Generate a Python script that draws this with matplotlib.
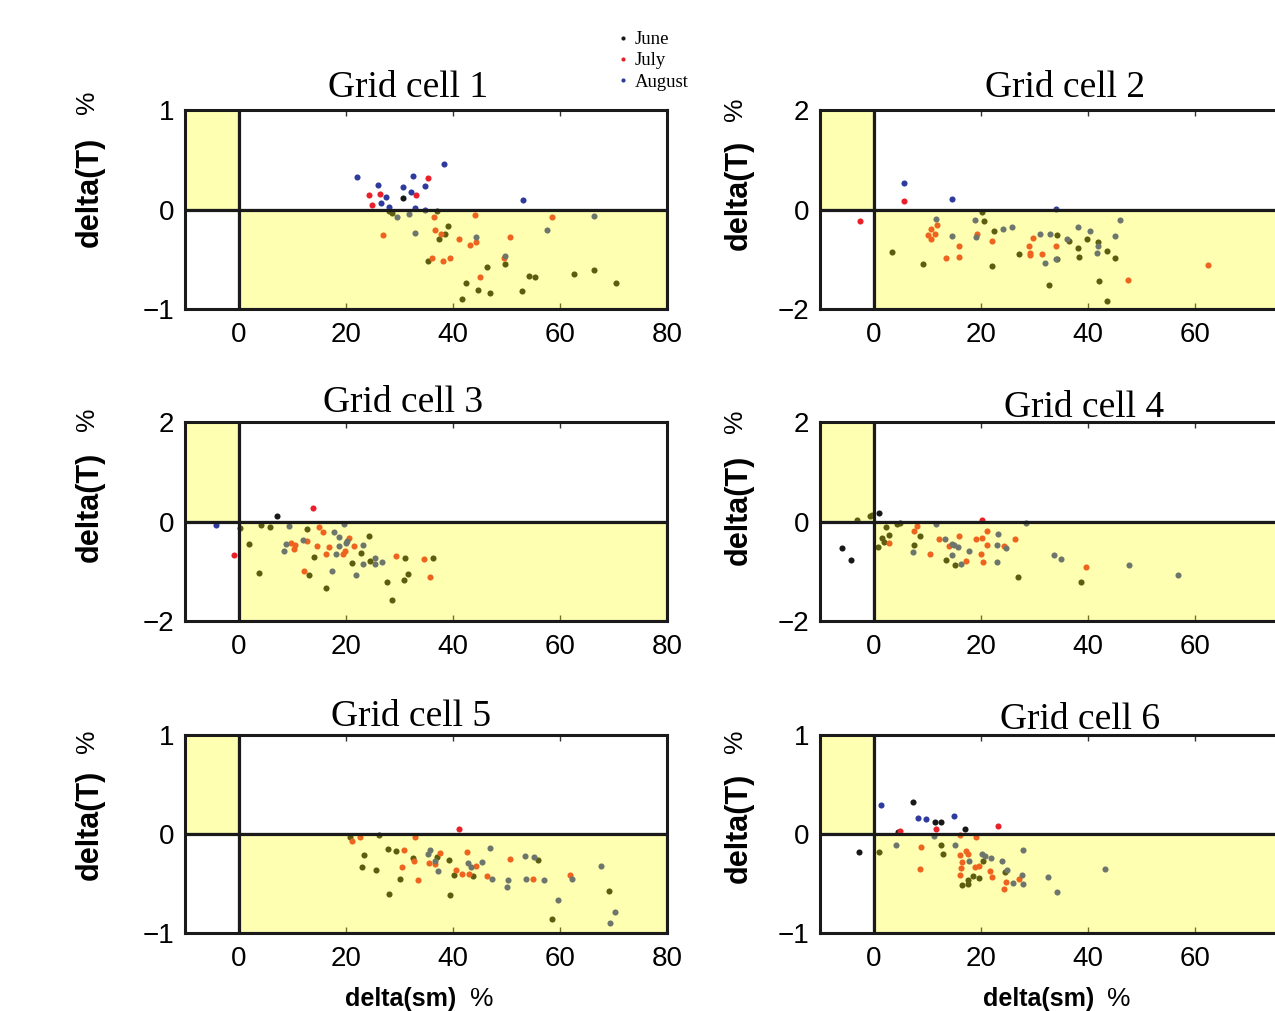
import matplotlib
matplotlib.use("Agg")
import matplotlib.pyplot as plt
from matplotlib.patches import Rectangle
from matplotlib.lines import Line2D

# ---------------- data (delta(sm) %, delta(T) %) ----------------
# Grid cell 1
g1_jun_x = [30.7, 28.0, 28.7, 37.0, 39.2, 38.5, 37.5, 35.3, 46.4, 49.8, 42.5, 44.8, 46.9, 41.7, 52.9, 54.3, 55.4, 62.7, 66.3, 70.4]
g1_jun_y = [0.12, -0.02, -0.04, -0.02, -0.17, -0.25, -0.30, -0.52, -0.58, -0.55, -0.74, -0.81, -0.84, -0.90, -0.82, -0.67, -0.68, -0.65, -0.61, -0.74]
g1_jul_x = [24.4, 26.4, 24.9, 33.2, 35.4, 27.0, 36.5, 44.1, 58.6, 36.6, 37.8, 41.2, 43.3, 44.4, 50.7, 36.2, 38.1, 39.4, 49.5, 45.0]
g1_jul_y = [0.15, 0.16, 0.05, 0.15, 0.32, -0.26, -0.08, -0.06, -0.08, -0.21, -0.25, -0.30, -0.36, -0.33, -0.28, -0.49, -0.52, -0.49, -0.49, -0.68]
g1_aug_x = [22.2, 26.1, 27.5, 26.6, 28.1, 30.7, 32.5, 32.2, 34.9, 38.3, 53.1, 33.0, 34.8, 29.6, 31.8, 32.9, 44.4, 49.7, 57.5, 66.3]
g1_aug_y = [0.33, 0.25, 0.13, 0.07, 0.03, 0.23, 0.34, 0.18, 0.24, 0.46, 0.10, 0.02, -0.01, -0.08, -0.05, -0.24, -0.28, -0.47, -0.21, -0.07]

# Grid cell 2
g2_jun_x = [20.2, 3.5, 9.2, 20.6, 22.4, 22.2, 27.1, 32.7, 34.2, 36.5, 38.2, 38.3, 39.8, 41.9, 42.1, 43.5, 43.5, 45.0, 34.3]
g2_jun_y = [-0.05, -0.85, -1.09, -0.23, -0.43, -1.13, -0.89, -1.51, -0.51, -0.63, -0.77, -0.96, -0.60, -0.65, -1.44, -0.84, -1.83, -0.97, -1.00]
g2_jul_x = [5.7, -2.6, 10.1, 10.8, 11.9, 10.7, 11.5, 15.9, 13.5, 16.0, 19.4, 22.2, 29.7, 29.0, 29.2, 29.3, 31.4, 34.1, 47.6, 62.4]
g2_jul_y = [0.18, -0.24, -0.51, -0.39, -0.32, -0.60, -0.50, -0.73, -0.98, -0.96, -0.49, -0.63, -0.57, -0.73, -0.88, -0.92, -0.89, -0.73, -1.41, -1.12]
g2_aug_x = [5.6, 14.7, 34.1, 11.7, 14.7, 18.9, 19.2, 24.2, 25.8, 31.1, 32.9, 32.0, 34.0, 36.1, 38.2, 40.4, 42.0, 41.8, 45.0, 46.1]
g2_aug_y = [0.53, 0.21, 0.01, -0.20, -0.53, -0.21, -0.55, -0.40, -0.35, -0.49, -0.50, -1.08, -1.00, -0.59, -0.35, -0.44, -0.74, -0.87, -0.53, -0.21]

# Grid cell 3
g3_jun_x = [7.1, 0.3, 4.1, 5.9, 2.0, 3.8, 12.8, 14.1, 13.1, 16.3, 21.1, 22.9, 24.4, 24.6, 27.8, 28.7, 31.1, 30.9, 31.6, 36.4]
g3_jun_y = [0.11, -0.14, -0.07, -0.12, -0.46, -1.04, -0.15, -0.71, -1.08, -1.34, -0.84, -0.63, -0.29, -0.79, -1.21, -1.57, -0.73, -1.17, -1.06, -0.74]
g3_jul_x = [-0.9, 13.9, 9.8, 10.5, 10.3, 12.7, 14.7, 15.0, 15.8, 16.4, 16.9, 12.2, 19.5, 19.9, 20.6, 21.6, 29.4, 34.7, 35.8]
g3_jul_y = [-0.67, 0.27, -0.44, -0.48, -0.56, -0.39, -0.49, -0.12, -0.22, -0.66, -0.52, -0.99, -0.65, -0.59, -0.34, -0.50, -0.70, -0.76, -1.11]
g3_aug_x = [-4.2, 19.7, 9.4, 8.5, 8.8, 12.1, 17.9, 18.7, 18.8, 18.2, 20.0, 20.3, 17.4, 21.9, 23.3, 23.3, 25.4, 25.4, 26.8]
g3_aug_y = [-0.07, -0.05, -0.10, -0.59, -0.45, -0.37, -0.21, -0.31, -0.50, -0.66, -0.44, -0.39, -1.00, -1.07, -0.47, -0.86, -0.73, -0.85, -0.82]

# Grid cell 4
g4_jun_x = [-5.8, -4.3, 1.1, -3.0, -0.7, -0.3, 2.4, 1.6, 1.9, 2.8, 0.9, 4.4, 5.0, 7.6, 8.7, 13.6, 15.3, 27.0, 38.8]
g4_jun_y = [-0.54, -0.77, 0.18, 0.03, 0.11, 0.14, -0.12, -0.34, -0.41, -0.28, -0.52, -0.06, -0.04, -0.47, -0.30, -0.77, -0.87, -1.12, -1.21]
g4_jul_x = [20.2, 2.8, 7.6, 8.1, 10.6, 12.2, 14.1, 15.9, 17.2, 19.1, 20.2, 20.1, 20.4, 21.2, 21.2, 24.4, 26.5, 39.7]
g4_jul_y = [0.04, -0.43, -0.19, -0.09, -0.66, -0.35, -0.49, -0.30, -0.80, -0.36, -0.34, -0.66, -0.82, -0.20, -0.47, -0.50, -0.35, -0.92]
g4_aug_x = [7.4, 11.7, 13.4, 14.6, 15.1, 15.8, 14.6, 16.3, 17.8, 23.0, 23.2, 23.0, 24.8, 28.4, 33.7, 35.0, 47.7, 56.8]
g4_aug_y = [-0.61, -0.06, -0.35, -0.45, -0.48, -0.52, -0.68, -0.86, -0.59, -0.48, -0.26, -0.81, -0.54, -0.03, -0.67, -0.75, -0.88, -1.08]

# Grid cell 5
g5_jun_x = [26.3, 20.9, 23.5, 23.0, 25.7, 27.9, 29.4, 30.2, 28.0, 32.5, 37.0, 39.3, 40.3, 39.5, 43.7, 55.9, 58.6, 69.1]
g5_jun_y = [-0.01, -0.03, -0.21, -0.33, -0.36, -0.15, -0.17, -0.45, -0.61, -0.24, -0.23, -0.26, -0.41, -0.62, -0.42, -0.26, -0.86, -0.58]
g5_jul_x = [41.2, 21.2, 22.6, 32.9, 30.8, 32.8, 30.5, 33.5, 35.6, 36.7, 37.7, 40.6, 41.7, 42.6, 43.0, 44.3, 46.4, 50.6, 54.9, 61.9]
g5_jul_y = [0.05, -0.07, -0.03, -0.03, -0.16, -0.27, -0.33, -0.46, -0.29, -0.30, -0.19, -0.36, -0.40, -0.18, -0.40, -0.32, -0.42, -0.25, -0.45, -0.41]
g5_aug_x = [35.3, 35.8, 36.6, 37.3, 42.9, 43.4, 45.5, 46.9, 47.3, 50.1, 50.3, 53.4, 53.6, 55.2, 57.0, 59.7, 62.2, 67.6, 70.2, 69.3]
g5_aug_y = [-0.20, -0.16, -0.27, -0.37, -0.29, -0.33, -0.28, -0.14, -0.45, -0.54, -0.46, -0.22, -0.45, -0.23, -0.46, -0.67, -0.45, -0.32, -0.79, -0.90]

# Grid cell 6
g6_jun_x = [7.3, 11.4, 12.6, 17.1, 4.6, -2.8, 1.1, 12.6, 12.9, 17.7, 16.6, 17.7, 18.6, 19.6, 20.4, 24.5]
g6_jun_y = [0.32, 0.12, 0.12, 0.05, 0.02, -0.18, -0.18, -0.11, -0.20, -0.46, -0.52, -0.50, -0.42, -0.44, -0.27, -0.38]
g6_jul_x = [5.0, 11.6, 23.3, 16.1, 8.8, 8.7, 16.1, 17.3, 17.6, 16.6, 16.3, 16.1, 18.9, 19.6, 19.1, 21.7, 22.2, 24.8, 24.3, 27.2]
g6_jul_y = [0.03, 0.05, 0.08, -0.01, -0.13, -0.35, -0.21, -0.17, -0.20, -0.28, -0.34, -0.41, -0.33, -0.32, -0.03, -0.37, -0.43, -0.48, -0.56, -0.45]
g6_aug_x = [1.3, 8.3, 9.7, 15.1, 11.3, 4.2, 15.3, 17.9, 20.3, 20.9, 21.9, 24.0, 25.0, 26.1, 27.9, 27.8, 27.9, 32.5, 34.2, 43.2]
g6_aug_y = [0.29, 0.16, 0.15, 0.18, -0.02, -0.11, -0.11, -0.27, -0.20, -0.22, -0.24, -0.27, -0.36, -0.49, -0.16, -0.41, -0.51, -0.43, -0.59, -0.35]

titles = ["Grid cell 1", "Grid cell 2", "Grid cell 3", "Grid cell 4", "Grid cell 5", "Grid cell 6"]
y_limits = [1, 2, 2, 2, 1, 1]
x_ticks_left = [0, 20, 40, 60, 80]
x_ticks_right = [0, 20, 40, 60]
months = ["June", "July", "August"]
month_colors = ["#181818", "#e8202a", "#2f3b9c"]

data = [
    [(g1_jun_x, g1_jun_y), (g1_jul_x, g1_jul_y), (g1_aug_x, g1_aug_y)],
    [(g2_jun_x, g2_jun_y), (g2_jul_x, g2_jul_y), (g2_aug_x, g2_aug_y)],
    [(g3_jun_x, g3_jun_y), (g3_jul_x, g3_jul_y), (g3_aug_x, g3_aug_y)],
    [(g4_jun_x, g4_jun_y), (g4_jul_x, g4_jul_y), (g4_aug_x, g4_aug_y)],
    [(g5_jun_x, g5_jun_y), (g5_jul_x, g5_jul_y), (g5_aug_x, g5_aug_y)],
    [(g6_jun_x, g6_jun_y), (g6_jul_x, g6_jul_y), (g6_aug_x, g6_aug_y)],
]

# ---------------- layout ----------------
W, H = 1275, 1011
fig = plt.figure(figsize=(W / 100, H / 100), dpi=100)
fig.patch.set_facecolor("white")


def fx(px):
    return px / W


def fy(py):
    return 1 - py / H


rows = [(110, 309), (422, 621), (735, 933)]
cols = [185, 820]
ax_w = 482
title_xfrac = [0.462, 0.509, 0.452, 0.547, 0.468, 0.540]
title_pad_px = [13, 13, 10, 5, 9, 6]
ylab_pos = {0: [(192, 102), (507, 419), (825, 741)], 1: [(195, 109), (510, 421), (828, 741)]}
ylab_x = {0: (90, 87), 1: (739, 735)}

sans = ["Liberation Sans", "DejaVu Sans"]
serif = ["Liberation Serif", "DejaVu Serif"]
yellow = (1.0, 1.0, 0.0, 0.30)
edge_gray = (0.62, 0.62, 0.62, 1.0)

for i in range(6):
    r, c = divmod(i, 2)
    top, bot = rows[r]
    left = cols[c]
    ax = fig.add_axes([fx(left), fy(bot), fx(ax_w), (bot - top) / H])
    ylim = y_limits[i]
    ax.set_xlim(-10, 80)
    ax.set_ylim(-ylim, ylim)

    for (xs, ys), col in zip(data[i], month_colors):
        ax.plot(xs, ys, linestyle="none", marker="o", markersize=4.4,
                markerfacecolor=col, markeredgewidth=0, color=col, zorder=2)

    # shaded quadrants (semi-transparent overlay)
    ax.add_patch(Rectangle((-10, 0), 10, ylim, facecolor=yellow,
                           edgecolor=edge_gray, linewidth=1.6, zorder=3))
    ax.add_patch(Rectangle((0, -ylim), 80, ylim, facecolor=yellow,
                           edgecolor=edge_gray, linewidth=1.6, zorder=3))
    ax.axhline(0, color="#1a1a1a", linewidth=2.3, zorder=4)
    ax.axvline(0, color="#1a1a1a", linewidth=2.3, zorder=4)

    xt = x_ticks_left if c == 0 else x_ticks_right
    ax.set_xticks(xt)
    ax.set_yticks([-ylim, 0, ylim])
    ax.set_xticklabels([str(t) for t in xt], fontfamily=sans, fontsize=20)
    ax.set_yticklabels(["\u2212%d" % ylim, "0", "%d" % ylim], fontfamily=sans, fontsize=20)
    ax.tick_params(direction="in", length=4, width=1, top=True, right=True,
                   colors="#333333", labelcolor="black")
    ax.tick_params(axis="x", pad=9)
    ax.tick_params(axis="y", pad=8)
    for sp in ax.spines.values():
        sp.set_linewidth(2.2)
        sp.set_color("#1a1a1a")
        sp.set_zorder(5)

    ax.text(title_xfrac[i], 1 + title_pad_px[i] / (bot - top), titles[i],
            transform=ax.transAxes, ha="center", va="baseline",
            fontfamily=serif, fontsize=27)

    ly, py = ylab_pos[c][r]
    lx, pxx = ylab_x[c]
    fig.text(fx(lx), fy(ly), "delta(T)", rotation=90, ha="center", va="center",
             fontfamily=sans, fontweight="bold", fontsize=22)
    fig.text(fx(pxx), fy(py), "%", rotation=90, ha="center", va="center",
             fontfamily=sans, fontsize=19)

# x labels
for lx, px_ in [(345, 470), (983, 1107)]:
    fig.text(fx(lx), fy(987), "delta(sm)", ha="left", va="top",
             fontfamily=sans, fontweight="bold", fontsize=18)
    fig.text(fx(px_), fy(987), "%", ha="left", va="top",
             fontfamily=sans, fontsize=19)

# legend
handles = [Line2D([], [], linestyle="none", marker="o", markersize=3,
                  markerfacecolor=col, markeredgewidth=0) for col in month_colors]
fig.legend(handles, months, loc="upper left", bbox_to_anchor=(fx(617), fy(31)),
           frameon=False, prop={"family": serif, "size": 13.5},
           handlelength=0.6, handletextpad=0.35, labelspacing=0.22,
           borderpad=0, borderaxespad=0)

fig.savefig("out.png", dpi=100)
